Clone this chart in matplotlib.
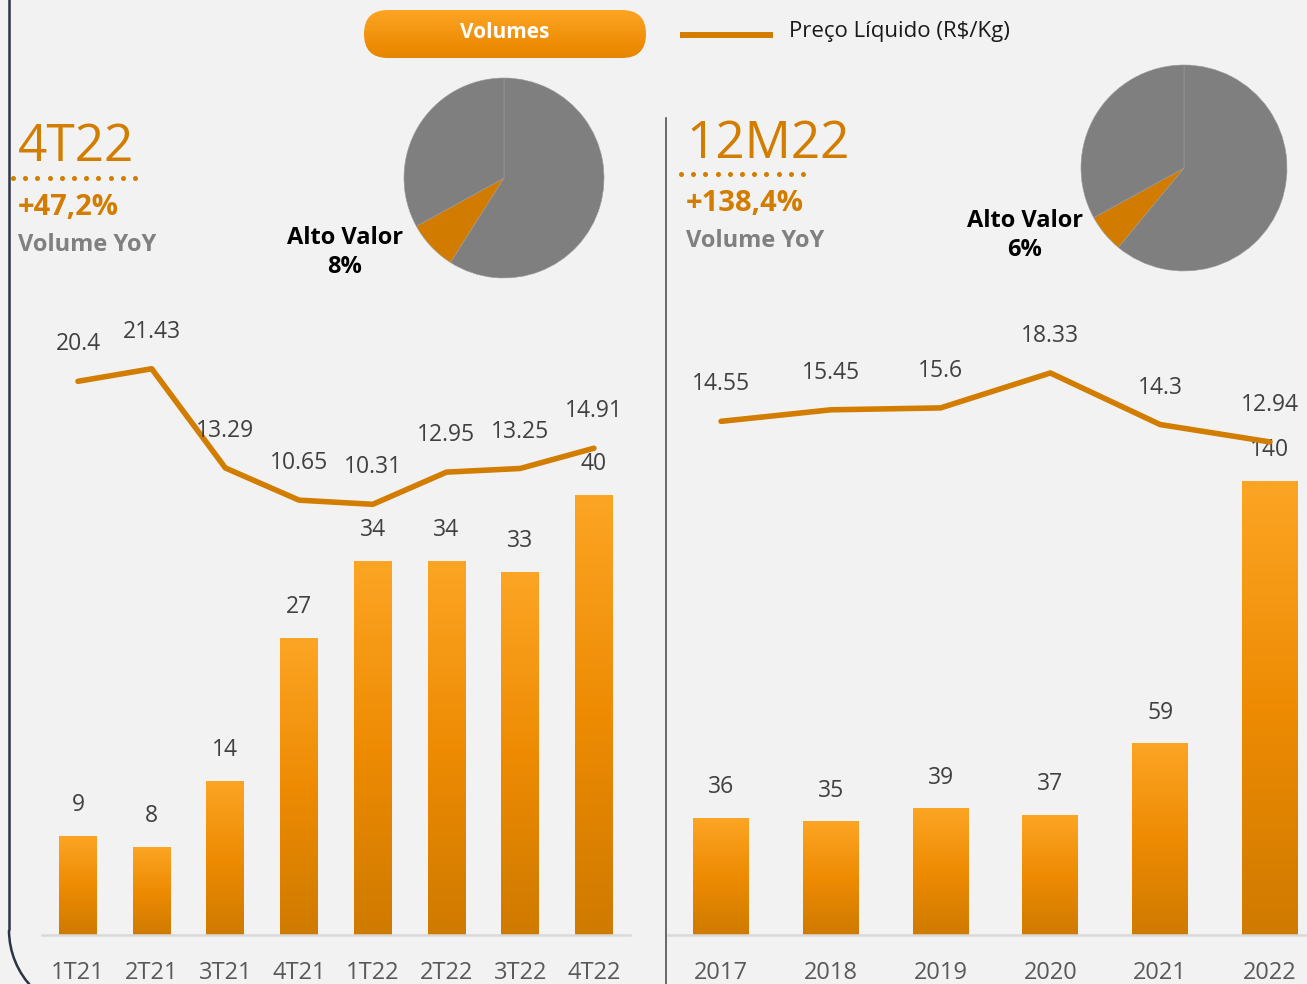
import numpy as np
import matplotlib
matplotlib.use("Agg")
import matplotlib.pyplot as plt
from matplotlib.colors import LinearSegmentedColormap
from matplotlib.patches import FancyBboxPatch, Arc

plt.rcParams['font.family'] = ['Open Sans', 'DejaVu Sans']

# data
quarters = ["1T21", "2T21", "3T21", "4T21", "1T22", "2T22", "3T22", "4T22"]
vol_q = [9, 8, 14, 27, 34, 34, 33, 40]
price_q = [20.4, 21.43, 13.29, 10.65, 10.31, 12.95, 13.25, 14.91]

years = ["2017", "2018", "2019", "2020", "2021", "2022"]
vol_y = [36, 35, 39, 37, 59, 140]
price_y = [14.55, 15.45, 15.6, 18.33, 14.3, 12.94]

pie_q = [59, 8, 33]   # outros / alto valor / outros
pie_y = [61, 6, 33]

ORANGE = '#D27D00'
BG = '#F2F2F2'
W, H = 1307, 984

bar_cmap = LinearSegmentedColormap.from_list('bar', ['#CF7A00', '#EE8B03', '#FCA524'])
grad = np.linspace(0, 1, 256).reshape(-1, 1)

fig = plt.figure(figsize=(W / 100, H / 100), dpi=100, facecolor=BG)


def px_axes(x0, y0, x1, y1, **kw):
    return fig.add_axes([x0 / W, 1 - y1 / H, (x1 - x0) / W, (y1 - y0) / H], **kw)


# background / decoration layer in pixel coordinates
bg = px_axes(0, 0, W, H, zorder=0)
bg.set_xlim(0, W)
bg.set_ylim(H, 0)
bg.axis('off')

# frame on the left with rounded corner
bg.plot([9, 9], [-5, 930], color='#2B3442', lw=1.8, solid_capstyle='butt')
bg.add_patch(Arc((92, 930), 166, 166, theta1=90, theta2=180, color='#2B3442', lw=1.8))
# divider
bg.plot([666, 666], [118, 990], color='#444444', lw=1.1)

# legend: button + line
btn = FancyBboxPatch((364, 10), 282, 48, boxstyle='round,pad=0,rounding_size=24',
                     facecolor='none', edgecolor='none')
bg.add_patch(btn)
im = bg.imshow(np.linspace(1, 0.35, 256).reshape(-1, 1), extent=(364, 646, 58, 10),
               cmap=bar_cmap, vmin=0, vmax=1, aspect='auto', origin='upper')
im.set_clip_path(btn)
bg.text(505, 33, "Volumes", color='white', fontsize=15, fontweight='bold',
        ha='center', va='center')
bg.plot([680, 773], [35, 35], color=ORANGE, lw=4.3, solid_capstyle='butt')
bg.text(789, 32, "Preço Líquido (R$/Kg)", color='#1a1a1a', fontsize=16,
        ha='left', va='center')

# headline blocks
for x0, y_t, dy, title, pct in [(18, 161, 0, "4T22", "+47,2%"),
                                (686, 158, -4, "12M22", "+138,4%")]:
    bg.text(x0, y_t, title, color=ORANGE, fontsize=37, ha='left', va='baseline')
    bg.plot(np.linspace(x0 - 5, x0 + 117, 11), [178 + dy] * 11, 'o', color=ORANGE,
            ms=3.6, mec='none')
    bg.text(x0, 215 + dy, pct, color=ORANGE, fontsize=21, fontweight='bold',
            ha='left', va='baseline')
    bg.text(x0, 251 + dy, "Volume YoY", color='#808080', fontsize=17, fontweight='bold',
            ha='left', va='baseline')

bg.set_xlim(0, W)
bg.set_ylim(H, 0)

# pies
for (cx, cy, r), shares, (lx, ly), pct in [((504, 178, 100), pie_q, (345, 238), "8%"),
                                           ((1184, 168, 103), pie_y, (1025, 221), "6%")]:
    pa = px_axes(cx - r, cy - r, cx + r, cy + r, zorder=2)
    pa.pie(shares, colors=['#7F7F7F', '#D17C00', '#7F7F7F'], startangle=90,
           counterclock=False, radius=1,
           wedgeprops=dict(edgecolor='#9a9a9a', linewidth=0.4))
    pa.set_xlim(-1, 1)
    pa.set_ylim(-1, 1)
    pa.set_aspect('auto')
    pa.axis('off')
    bg.text(lx, ly, "Alto Valor", color='black', fontsize=17, fontweight='bold',
            ha='center', va='center')
    bg.text(lx, ly + 29, pct, color='black', fontsize=17, fontweight='bold',
            ha='center', va='center')


def panel(x0, x1, cats, vols, prices, xlim, bw, vmax, plim):
    ax = px_axes(x0, 300, x1, 935, zorder=3)
    ax.set_facecolor('none')
    x = np.arange(len(cats))
    bars = ax.bar(x, vols, width=bw, color='none')
    for b in bars:
        bx, by = b.get_xy()
        ax.imshow(grad, extent=(bx, bx + b.get_width(), by, by + b.get_height()),
                  origin='lower', cmap=bar_cmap, aspect='auto', zorder=2)
    for xi, v in zip(x, vols):
        ax.annotate(f"{v}", (xi, v), xytext=(0, 22.3), textcoords='offset points',
                    ha='center', va='center', fontsize=16.5, color='#404040')
    ax.set_xlim(*xlim)
    ax.set_ylim(0, vmax)
    ax.set_xticks(x, cats)
    ax.tick_params(axis='x', length=0, pad=19, labelsize=17, labelcolor='#595959')
    ax.set_yticks([])
    for s in ['top', 'left', 'right']:
        ax.spines[s].set_visible(False)
    ax.spines['bottom'].set_color('#D9D9D9')
    ax.spines['bottom'].set_linewidth(1.8)

    ax2 = ax.twinx()
    ax2.plot(x, prices, color=ORANGE, lw=4, solid_capstyle='round', solid_joinstyle='round')
    for xi, p in zip(x, prices):
        ax2.annotate(f"{p:g}", (xi, p), xytext=(0, 26.6), textcoords='offset points',
                     ha='center', va='center', fontsize=16.5, color='#404040')
    ax2.set_ylim(*plim)
    ax2.set_xlim(*xlim)
    ax2.axis('off')


panel(42, 630, quarters, vol_q, price_q, (-0.488, 7.49), 0.515, 57.73, (-25.02, 27.07))
panel(668, 1305, years, vol_y, price_y, (-0.483, 5.32), 0.51, 196.0, (-25.58, 24.03))

fig.savefig("out.png", dpi=100, facecolor=BG)
